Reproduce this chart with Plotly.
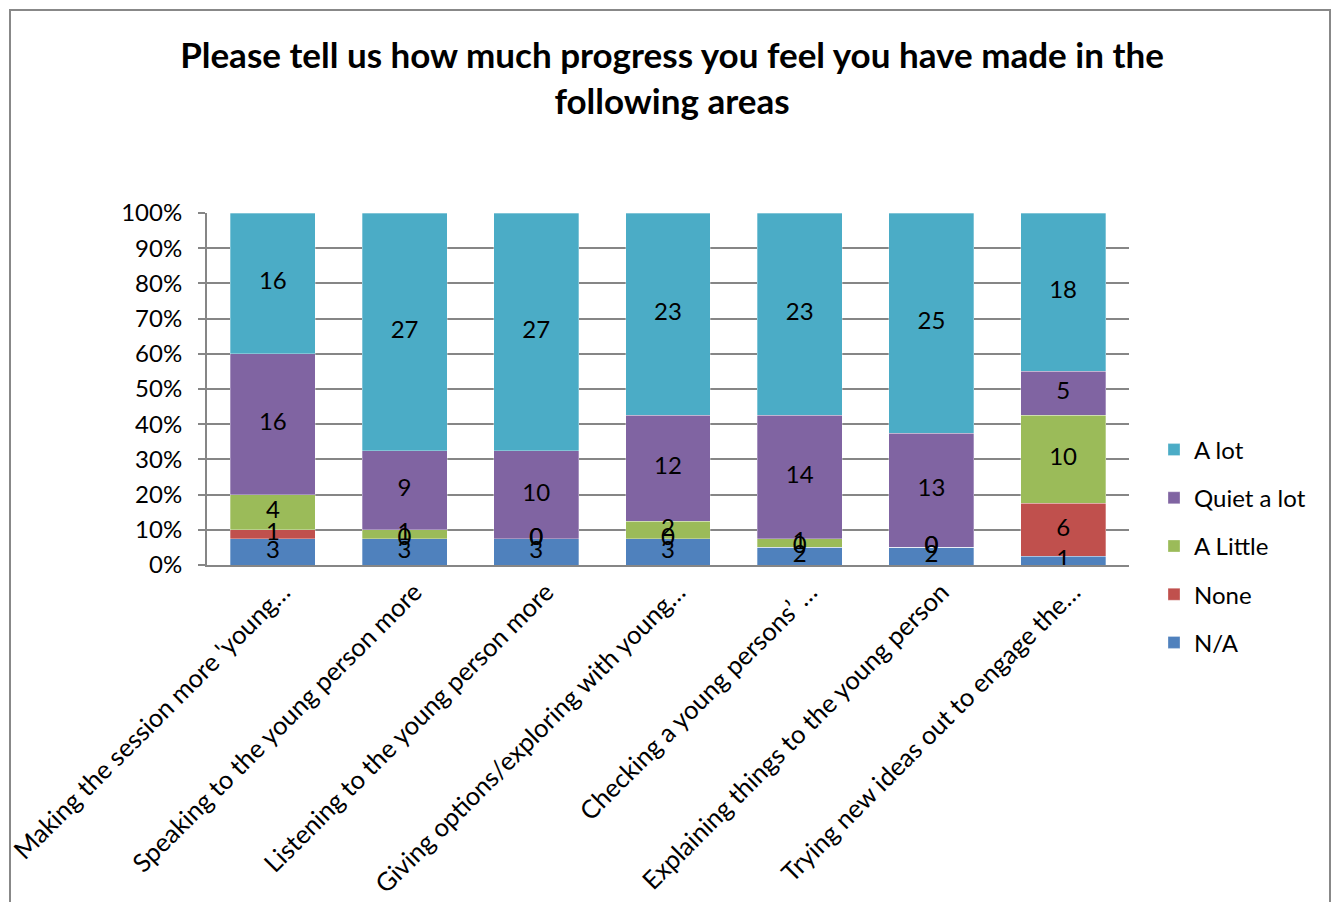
import numpy as np
import plotly.graph_objects as go

categories = [
    "Making the session more 'young…",
    "Speaking to the young person more",
    "Listening to the young person more",
    "Giving options/exploring with young…",
    "Checking a young persons’ …",
    "Explaining things to the young person",
    "Trying new ideas out to engage the…",
]
na_vals = [3, 3, 3, 3, 2, 2, 1]
none_vals = [1, 0, 0, 0, 0, 0, 6]
little_vals = [4, 1, 0, 2, 1, 0, 10]
quiet_vals = [16, 9, 10, 12, 14, 13, 5]
alot_vals = [16, 27, 27, 23, 23, 25, 18]

series = [
    ("N/A", na_vals, "#4F81BD"),
    ("None", none_vals, "#C0504D"),
    ("A Little", little_vals, "#9BBB59"),
    ("Quiet a lot", quiet_vals, "#8064A2"),
    ("A lot", alot_vals, "#4BACC6"),
]
tick_vals = [0, 10, 20, 30, 40, 50, 60, 70, 80, 90, 100]
tick_text = [f"{v}%" for v in tick_vals]

FONT = "Lato"
FS = 24
fig = go.Figure()
n = len(series)
for k, (name, vals, color) in enumerate(series):
    fig.add_trace(go.Bar(
        x=categories, y=vals, name=name, legendgroup=name, legendrank=n - k,
        marker=dict(color=color, line=dict(width=0.6, color="rgba(255,255,255,0.5)")),
        hoverinfo="skip",
    ))

# data labels at centre of each normalised segment
mat = np.array([s[1] for s in series], dtype=float)
tot = mat.sum(axis=0)
pct = mat / tot * 100
cum = np.cumsum(pct, axis=0)
mid = cum - pct / 2
for i, (name, vals, color) in enumerate(series):
    fig.add_trace(go.Scatter(
        x=categories, y=mid[i], mode="text", text=[str(v) for v in vals],
        textfont=dict(family=FONT, size=FS, color="black"),
        showlegend=False, hoverinfo="skip", cliponaxis=False,
    ))

# page body has an 8px margin: target coordinates are shifted by 8
OFF = 8
W, H = 1341 - OFF, 902 - OFF
L, R, T, B = 207 - OFF, 1129 - OFF, 213 - OFF, 565 - OFF
pw, ph = R - L, B - T

fig.update_layout(
    width=W, height=H,
    barmode="stack", barnorm="percent", bargap=0.355,
    plot_bgcolor="white", paper_bgcolor="white",
    margin=dict(l=L, r=W - R, t=T, b=H - B, autoexpand=False),
    font=dict(family=FONT, size=FS, color="black"),
    title=dict(
        text="<b>Please tell us how much progress you feel you have made in the<br>following areas</b>",
        x=(672 - OFF) / W, xref="container", xanchor="center",
        y=1 - (68 - OFF) / H, yref="container", yanchor="middle",
        font=dict(family=FONT, size=35, color="black"),
    ),
    legend=dict(
        x=(1154 - OFF - L) / pw, xanchor="left",
        y=(B - (546 - OFF)) / ph, yanchor="middle",
        traceorder="grouped", tracegroupgap=14,
        font=dict(family=FONT, size=FS),
        itemwidth=30,
    ),
    xaxis=dict(
        tickangle=-45, showline=True, linecolor="#868686", linewidth=2,
        ticks="", tickfont=dict(family=FONT, size=25.5), ticklabelshift=10,
    ),
    yaxis=dict(
        range=[0, 100], tickvals=tick_vals, ticktext=tick_text,
        showgrid=True, gridcolor="#868686", gridwidth=2,
        showline=True, linecolor="#868686", linewidth=2,
        ticks="outside", ticklen=7, tickcolor="#868686", tickwidth=2,
        ticklabelstandoff=11, tickfont=dict(family=FONT, size=FS),
        zeroline=False,
    ),
    shapes=[dict(
        type="rect", xref="paper", yref="paper",
        x0=(10 - OFF - L) / pw, x1=(1330 - OFF - L) / pw,
        y0=(B - 920) / ph, y1=(B - (10 - OFF)) / ph,
        line=dict(color="#888888", width=2), fillcolor="rgba(0,0,0,0)", layer="below",
    )],
)

fig.write_html("out.html")
